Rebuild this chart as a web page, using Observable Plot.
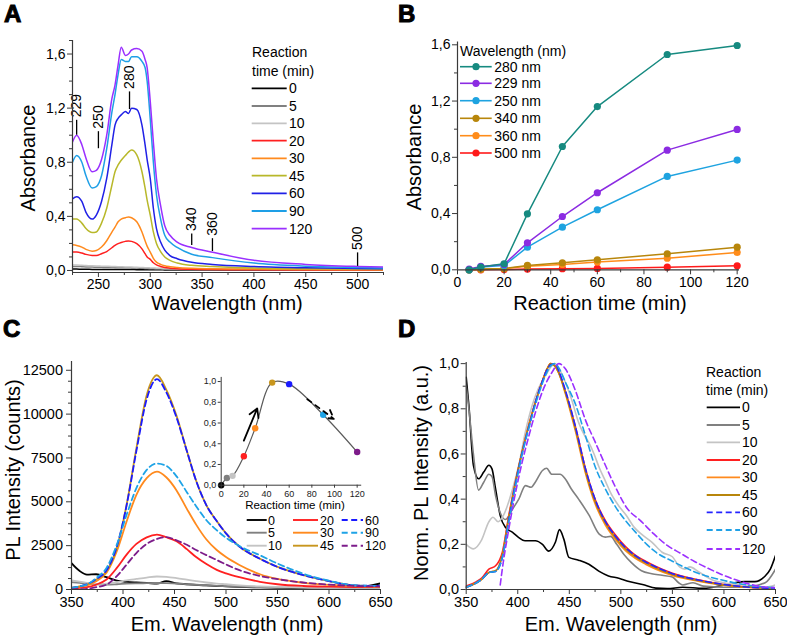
<!DOCTYPE html>
<html><head><meta charset="utf-8">
<script src="https://cdn.jsdelivr.net/npm/d3@7"></script>
<script src="https://cdn.jsdelivr.net/npm/@observablehq/plot@0.6"></script>
<style>
body{margin:0;background:#fff;}
#wrap{position:relative;width:787px;height:635px;overflow:hidden;background:#fff;}
#wrap svg{position:absolute;overflow:visible;}
</style></head><body><div id="wrap"></div>
<script>
// ---------------- DATA ----------------
// Panel A: absorbance spectra
const timesA = [0,5,10,20,30,45,60,90,120];
const nmA = [225,229,234,238,244,248,253,258,263,266,269,272,276,279,282,287,292,295,297,300,303,306,310,314,319,326,340,360,400,450,500,525];
const a0   = [0.010,0.010,0.009,0.009,0.008,0.008,0.008,0.008,0.007,0.007,0.007,0.007,0.007,0.007,0.007,0.006,0.006,0.006,0.006,0.005,0.005,0.005,0.005,0.004,0.004,0.004,0.003,0.003,0.002,0.002,0.002,0.002];
const a5   = [0.030,0.030,0.028,0.026,0.025,0.024,0.023,0.022,0.022,0.021,0.020,0.020,0.020,0.020,0.019,0.018,0.016,0.015,0.014,0.013,0.012,0.011,0.010,0.009,0.008,0.007,0.006,0.005,0.004,0.003,0.003,0.003];
const a10  = [0.040,0.040,0.038,0.036,0.034,0.033,0.032,0.031,0.030,0.029,0.028,0.027,0.026,0.026,0.025,0.024,0.022,0.021,0.020,0.019,0.018,0.017,0.016,0.015,0.014,0.013,0.012,0.011,0.009,0.007,0.006,0.005];
const a20  = [0.136,0.136,0.129,0.119,0.111,0.111,0.124,0.140,0.168,0.185,0.198,0.207,0.215,0.218,0.215,0.198,0.160,0.124,0.100,0.082,0.057,0.042,0.030,0.022,0.017,0.013,0.009,0.007,0.005,0.004,0.003,0.003];
const a30  = [0.190,0.185,0.173,0.156,0.143,0.148,0.173,0.220,0.284,0.320,0.360,0.380,0.390,0.396,0.390,0.360,0.284,0.220,0.180,0.136,0.090,0.062,0.045,0.035,0.028,0.022,0.016,0.013,0.010,0.007,0.005,0.005];
const a45  = [0.380,0.380,0.350,0.310,0.280,0.285,0.350,0.460,0.630,0.730,0.780,0.815,0.850,0.875,0.890,0.855,0.730,0.610,0.520,0.410,0.285,0.200,0.140,0.100,0.075,0.055,0.038,0.030,0.018,0.012,0.010,0.008];
const a60  = [0.530,0.545,0.510,0.430,0.380,0.410,0.510,0.680,0.930,1.075,1.125,1.150,1.175,1.160,1.200,1.190,1.075,0.930,0.820,0.680,0.460,0.310,0.210,0.150,0.110,0.087,0.060,0.045,0.030,0.020,0.015,0.012];
const a90  = [0.800,0.850,0.800,0.700,0.610,0.620,0.700,0.900,1.170,1.300,1.450,1.560,1.545,1.545,1.580,1.580,1.545,1.500,1.400,1.120,0.800,0.560,0.380,0.260,0.210,0.170,0.120,0.095,0.055,0.032,0.022,0.018];
const a120 = [0.950,1.000,0.930,0.830,0.730,0.740,0.820,1.000,1.270,1.370,1.520,1.650,1.590,1.600,1.630,1.640,1.620,1.560,1.500,1.250,0.950,0.680,0.480,0.330,0.260,0.210,0.170,0.135,0.075,0.045,0.030,0.025];
const colorsA = ["#000000","#808080","#c4c4c4","#ff2020","#ff8a1e","#b8b82a","#2020e6","#1e9fe6","#9a30ff"];
const annotNm   = [229,250,280,340,360,500];
const annotLo   = [1.00,0.90,1.19,0.185,0.14,0.03];
const annotHi   = [1.11,1.026,1.32,0.27,0.235,0.13];
const annotText = ["229","250","280","340","360","500"];
const xTicksA = [250,300,350,400,450,500];
const xMinorA = [225,275,325,375,425,475,525];
const yTicksA = [0,0.4,0.8,1.2,1.6];
const yMinorA = [0.1,0.2,0.3,0.5,0.6,0.7,0.9,1.0,1.1,1.3,1.4,1.5,1.7];

// Panel B: absorbance vs reaction time
const timesB = [5,10,20,30,45,60,90,120];
const b280 = [0.000,0.020,0.043,0.398,0.877,1.161,1.531,1.595];
const b229 = [0.005,0.024,0.038,0.192,0.379,0.548,0.851,0.998];
const b250 = [0.000,0.020,0.030,0.161,0.303,0.427,0.664,0.780];
const b340 = [0.000,0.005,0.010,0.031,0.050,0.071,0.114,0.161];
const b360 = [0.000,0.003,0.008,0.025,0.038,0.055,0.083,0.123];
const b500 = [0.000,0.000,0.002,0.005,0.008,0.010,0.019,0.028];
const labelsB = ["280 nm","229 nm","250 nm","340 nm","360 nm","500 nm"];
const colorsB = ["#168a80","#8b2be2","#1ea3e0","#b8860b","#ff8c1a","#ff1a1a"];
const xTicksB = [0,20,40,60,80,100,120];
const xMinorB = [10,30,50,70,90,110];
const yTicksB = [0,0.4,0.8,1.2,1.6];
const yMinorB = [0.2,0.6,1.0,1.4];

// Panel C: PL spectra
const timesC = [0,5,10,20,30,45,60,90,120];
const nmC = [350,358,365,374,384,394,403.5,413,423,433,442,452,462,471,481,491,500,513,533,550,575,600,625,650];
const c0   = [1500,1050,850,870,700,500,430,400,380,330,480,350,300,260,230,200,180,150,120,100,80,80,100,350];
const c5   = [420,380,340,300,280,300,330,350,360,370,360,340,300,270,240,210,190,160,130,110,90,80,80,80];
const c10  = [520,450,380,320,330,420,520,600,680,740,720,650,560,480,400,340,300,240,180,150,120,100,90,90];
const c20  = [57,100,130,280,570,1230,1990,2600,2975,3125,2980,2750,2300,1850,1450,1120,920,700,440,300,200,160,140,130];
const c30  = [95,160,230,470,950,2180,3880,5400,6345,6724,6400,5650,4600,3700,2850,2250,1850,1400,870,600,380,260,190,150];
const c45  = [95,180,280,570,1040,2370,4830,8050,11080,12215,11400,9900,7900,6200,4800,3900,3200,2450,1750,1290,820,480,240,200];
const c60  = [95,180,300,600,1100,2450,4800,7900,10850,11990,11250,9800,7900,6200,4800,3900,3200,2450,1750,1290,820,480,230,200];
const c90  = [95,180,280,660,1230,2560,4260,5780,6820,7180,7050,6450,5550,4750,3950,3380,2950,2480,1950,1480,900,500,240,200];
const c120 = [0,20,40,130,280,760,1420,2080,2600,2880,2990,2800,2550,2250,1960,1680,1430,1100,770,590,400,280,200,170];
const colorsC = ["#000000","#808080","#c4c4c4","#ff2020","#ff8a1e","#c8961e","#1a1aff","#1ea3e6","#7d1c8a"];
const dashedC = [false,false,false,false,false,false,true,true,true];
const xTicksC = [350,400,450,500,550,600,650];
const xMinorC = [375,425,475,525,575,625];
const yTicksC = [0,2500,5000,7500,10000,12500];
const yMinorC = [625,1250,1875,3125,3750,4375,5625,6250,6875,8125,8750,9375,10625,11250,11875];

// Panel C inset: normalised PL maximum vs time
const timesInset = [0,5,10,20,30,45,60,90,120];
const normInset  = [0,0.07,0.09,0.28,0.55,0.99,0.975,0.68,0.32];
const arrowT1 = [20,76];
const arrowV1 = [0.43,0.83];
const arrowT2 = [31.8,99.4];
const arrowV2 = [0.74,0.64];
const arrowDashed = [false,true];
const xTicksIn = [0,20,40,60,80,100,120];
const yTicksIn = [0,0.2,0.4,0.6,0.8,1.0];

// Panel D: normalised PL spectra
const nmD0 = [350,352.6,357,362,367,372,375,378.5,383,388,395,401,407,417,424,430,436.6,440.5,444.7,449.6,459,469,479,488,498,508,521,534,545,560,580,600,610,620,630,640,645,650];
const d0   = [0.94,0.815,0.55,0.49,0.52,0.55,0.534,0.445,0.327,0.275,0.253,0.23,0.216,0.216,0.2,0.17,0.21,0.265,0.223,0.142,0.13,0.112,0.08,0.06,0.05,0.035,0.022,0.006,0.004,0.01,0.005,0.02,0.03,0.035,0.035,0.06,0.09,0.15];
const nmD5 = [350,352.6,357,362,367,372,375,378.5,383,388,395,401,407.5,413,417,424,428,433,441,446,452,459,469,479,485,490,496,503,510,520,530,540,550,556,560,570,580,600,620,640,650];
const d5   = [0.9,0.8,0.6,0.44,0.475,0.51,0.5,0.415,0.34,0.31,0.356,0.4,0.46,0.453,0.475,0.527,0.537,0.51,0.51,0.49,0.445,0.4,0.33,0.245,0.232,0.235,0.2,0.155,0.12,0.083,0.07,0.063,0.055,0.03,0.02,0.03,0.015,0.01,0.01,0.03,0.09];
const nmD10 = [350,357,365,372,376,381,386,395,401,407.5,414,420,427,433,436,440,446,452,459,465,469,474,479,485,491,498,505,513,520,530,540,550,557,562,567,575,590,600,620,640,650];
const d10   = [0.2,0.18,0.22,0.3,0.32,0.3,0.327,0.445,0.55,0.7,0.815,0.89,0.948,0.99,1.0,0.978,0.92,0.845,0.74,0.68,0.65,0.6,0.54,0.48,0.42,0.37,0.33,0.275,0.245,0.21,0.165,0.145,0.1,0.09,0.1,0.08,0.04,0.03,0.02,0.01,0.02];
const nmDM = [350,360,365,372,378.5,385,391.4,397.9,404.3,410.8,417.2,423.7,428.6,432,436,440,446,456,465.7,475.4,485,495,504.5,514,524,534,550,575,600,625,650];
const d20  = [0.015,0.035,0.05,0.09,0.105,0.164,0.33,0.48,0.61,0.73,0.83,0.92,0.978,1.0,0.99,0.96,0.88,0.72,0.535,0.395,0.305,0.24,0.19,0.152,0.125,0.102,0.072,0.043,0.022,0.01,0.005];
const d30  = [0.01,0.03,0.045,0.075,0.083,0.15,0.32,0.475,0.61,0.726,0.83,0.92,0.978,1.0,0.99,0.955,0.87,0.7,0.515,0.375,0.285,0.22,0.172,0.138,0.112,0.09,0.062,0.037,0.019,0.009,0.005];
const d45  = [0.01,0.03,0.045,0.075,0.083,0.15,0.32,0.475,0.61,0.726,0.83,0.92,0.978,1.0,0.99,0.957,0.875,0.71,0.525,0.385,0.295,0.228,0.18,0.145,0.118,0.095,0.066,0.04,0.02,0.01,0.005];
const d60  = [0.01,0.03,0.045,0.075,0.08,0.14,0.31,0.47,0.605,0.72,0.83,0.92,0.975,0.995,1.0,0.965,0.885,0.72,0.535,0.395,0.3,0.235,0.185,0.15,0.122,0.1,0.07,0.042,0.022,0.01,0.005];
const d90  = [0.01,0.03,0.045,0.075,0.08,0.14,0.3,0.46,0.6,0.715,0.82,0.91,0.965,0.99,1.0,0.98,0.92,0.82,0.68,0.54,0.445,0.365,0.305,0.255,0.205,0.165,0.125,0.072,0.04,0.018,0.008];
const nmD120 = [383,385,391.4,397.9,404.3,410.8,417.2,423.7,433.4,439.9,446,456,465.7,475.4,485,493,506,519,532,545,558,571,584,597,610,623,636,650];
const d120   = [0.02,0.09,0.27,0.43,0.564,0.68,0.785,0.874,0.963,1.0,0.978,0.88,0.75,0.65,0.55,0.47,0.36,0.305,0.246,0.195,0.16,0.125,0.095,0.068,0.045,0.026,0.013,0.008];
const timesD = [0,5,10,20,30,45,60,90,120];
const colorsD = ["#000000","#808080","#c4c4c4","#ff2020","#ff8a1e","#b8860b","#2424ff","#1ea0e6","#9b30ff"];
const dashedD = [false,false,false,false,false,false,true,true,true];
const xTicksD = [350,400,450,500,550,600,650];
const xMinorD = [375,425,475,525,575,625];
const yTicksD = [0,0.2,0.4,0.6,0.8,1.0];
const yMinorD = [0.1,0.3,0.5,0.7,0.9];

// ---------------- HELPERS ----------------
const FONT = '"Liberation Sans", Arial, Helvetica, sans-serif';
const comma1 = d => d.toFixed(1).replace(".", ",");
const blank = () => "";
const AX = "#3a3a3a";
const wrap = document.getElementById("wrap");
function place(el, left, top) { el.style.left = left + "px"; el.style.top = top + "px"; wrap.appendChild(el); }

function axes(xd, yd, xt, xm, yt, ym, fx, fy, fs = 14, ypad = 2) {
  return [
    Plot.axisX({ticks: xm, tickSize: 3, tickFormat: blank, stroke: AX, label: null}),
    Plot.axisX({ticks: xt, tickSize: 5, tickFormat: fx, fontSize: fs, fill: "black", stroke: AX, label: null, tickPadding: 2}),
    Plot.axisY({ticks: ym, tickSize: 3, tickFormat: blank, stroke: AX, label: null}),
    Plot.axisY({ticks: yt, tickSize: 5, tickFormat: fy, fontSize: fs, fill: "black", stroke: AX, label: null, tickPadding: ypad}),
    Plot.ruleX([xd[0]], {stroke: AX, strokeWidth: 1.2}),
    Plot.ruleY([yd[0]], {stroke: AX, strokeWidth: 1.2})
  ];
}

// ---------------- PANEL A ----------------
const seriesA = [a0,a5,a10,a20,a30,a45,a60,a90,a120];
const xdA = [225,525], ydA = [-0.015,1.7];
const plotA = Plot.plot({
  width: 393, height: 310, marginLeft: 72, marginRight: 10, marginTop: 40, marginBottom: 38,
  style: {fontFamily: FONT, background: "transparent", overflow: "visible"},
  x: {domain: xdA}, y: {domain: ydA},
  marks: [
    ...seriesA.map((v, i) => Plot.line(v, {x: nmA, y: Plot.identity, stroke: colorsA[i], strokeWidth: 1.5, curve: "monotone-x", clip: true})),
    Plot.ruleX(annotNm, {x: Plot.identity, y1: annotLo, y2: annotHi, stroke: "black", strokeWidth: 1.3}),
    Plot.text(annotText, {x: annotNm, y: annotHi, text: Plot.identity, rotate: -90, textAnchor: "start", dy: -3, fontSize: 14, fill: "black"}),
    ...axes(xdA, ydA, xTicksA, xMinorA, yTicksA, yMinorA, d => String(d), comma1)
  ]
});
place(plotA, 0, 0);

// ---------------- PANEL B ----------------
const seriesB = [b280,b229,b250,b340,b360,b500];
const xdB = [0,121], ydB = [0,1.62];
const plotB = Plot.plot({
  width: 394, height: 310, marginLeft: 64, marginRight: 48, marginTop: 41.5, marginBottom: 40.7,
  style: {fontFamily: FONT, background: "transparent", overflow: "visible"},
  x: {domain: xdB}, y: {domain: ydB},
  marks: [
    ...seriesB.slice().reverse().flatMap((v, j) => {
      const i = seriesB.length - 1 - j;
      return [
        Plot.line(v, {x: timesB, y: Plot.identity, stroke: colorsB[i], strokeWidth: 1.5}),
        Plot.dot(v, {x: timesB, y: Plot.identity, fill: colorsB[i], r: 3.6})
      ];
    }),
    ...axes(xdB, ydB, xTicksB, xMinorB, yTicksB, yMinorB, d => String(d), comma1)
  ]
});
place(plotB, 393, 0);

// ---------------- PANEL C ----------------
const seriesC = [c0,c5,c10,c20,c30,c45,c60,c90,c120];
const xdC = [350,650], ydC = [0,13000];
const plotC = Plot.plot({
  width: 393, height: 325, marginLeft: 71, marginRight: 13, marginTop: 51, marginBottom: 46,
  style: {fontFamily: FONT, background: "transparent", overflow: "visible"},
  x: {domain: xdC}, y: {domain: ydC},
  marks: [
    ...seriesC.map((v, i) => Plot.line(v, {x: nmC, y: Plot.identity, stroke: colorsC[i], strokeWidth: 1.8, curve: "monotone-x", strokeDasharray: dashedC[i] ? "6,3.5" : null, clip: true})),
    ...axes(xdC, ydC, xTicksC, xMinorC, yTicksC, yMinorC, d => String(d), d => String(d), 14.5, 3.5)
  ]
});
place(plotC, 0, 310);

// inset
const xdI = [0,124], ydI = [0,1.04];
const solid = arrowDashed.map(d => !d);
const plotI = Plot.plot({
  width: 185, height: 145, marginLeft: 35.7, marginRight: 8.8, marginTop: 6.9, marginBottom: 30.3,
  style: {fontFamily: FONT, background: "transparent", overflow: "visible"},
  x: {domain: xdI}, y: {domain: ydI},
  marks: [
    Plot.line(normInset, {x: timesInset, y: Plot.identity, stroke: "#5a5a5a", strokeWidth: 1.2, curve: "catmull-rom"}),
    Plot.dot(normInset, {x: timesInset, y: Plot.identity, fill: colorsC, r: 3.2}),
    Plot.arrow(arrowT1.filter((d, i) => solid[i]), {x1: Plot.identity, y1: arrowV1.filter((d, i) => solid[i]), x2: arrowT2.filter((d, i) => solid[i]), y2: arrowV2.filter((d, i) => solid[i]), stroke: "black", strokeWidth: 1.8, headLength: 8}),
    Plot.arrow(arrowT1.filter((d, i) => arrowDashed[i]), {x1: Plot.identity, y1: arrowV1.filter((d, i) => arrowDashed[i]), x2: arrowT2.filter((d, i) => arrowDashed[i]), y2: arrowV2.filter((d, i) => arrowDashed[i]), stroke: "black", strokeWidth: 1.8, headLength: 8, strokeDasharray: "5,5"}),
    Plot.axisX({ticks: xTicksIn, tickSize: 3, fontSize: 9, fill: "#222", stroke: AX, label: null, tickPadding: 2, tickFormat: d => String(d)}),
    Plot.axisY({ticks: yTicksIn, tickSize: 3, fontSize: 9, fill: "#222", stroke: AX, label: null, tickPadding: 2, tickFormat: comma1}),
    Plot.ruleX([0], {stroke: AX}),
    Plot.ruleY([0], {stroke: AX})
  ]
});
place(plotI, 185, 370);

// ---------------- PANEL D ----------------
const seriesD = [[nmD0,d0],[nmD5,d5],[nmD10,d10],[nmDM,d20],[nmDM,d30],[nmDM,d45],[nmDM,d60],[nmDM,d90],[nmD120,d120]];
const xdD = [350,650], ydD = [0,1.005];
const plotD = Plot.plot({
  width: 394, height: 325, marginLeft: 72.7, marginRight: 12, marginTop: 52, marginBottom: 46,
  style: {fontFamily: FONT, background: "transparent", overflow: "visible"},
  x: {domain: xdD}, y: {domain: ydD},
  marks: [
    ...seriesD.map(([xs, v], i) => Plot.line(v, {x: xs, y: Plot.identity, stroke: colorsD[i], strokeWidth: 1.6, curve: "monotone-x", strokeDasharray: dashedD[i] ? "6,3.5" : null, clip: true})),
    ...axes(xdD, ydD, xTicksD, xMinorD, yTicksD, yMinorD, d => String(d), comma1, 14.5)
  ]
});
place(plotD, 393, 310);

// ---------------- OVERLAY: titles, legends, panel letters ----------------
const ov = d3.create("svg").attr("width", 787).attr("height", 635)
  .style("left", "0px").style("top", "0px").style("pointer-events", "none")
  .style("font-family", FONT);
function txt(x, y, s, size, opts = {}) {
  const t = ov.append("text").attr("x", x).attr("y", y).text(s).attr("font-size", size).attr("fill", "black");
  if (opts.anchor) t.attr("text-anchor", opts.anchor);
  if (opts.rotate) t.attr("transform", `rotate(${opts.rotate},${x},${y})`);
  if (opts.bold) t.attr("font-weight", "bold").attr("stroke", "black").attr("stroke-width", 1);
  return t;
}
// panel letters
txt(4, 22, "A", 24, {bold: true});
txt(398, 22, "B", 24, {bold: true});
txt(3, 337, "C", 24, {bold: true});
txt(398, 337, "D", 24, {bold: true});
// axis titles
txt(227, 310, "Wavelength (nm)", 20, {anchor: "middle"});
txt(35, 158, "Absorbance", 20, {anchor: "middle", rotate: -90});
txt(600, 310, "Reaction time (min)", 20, {anchor: "middle"});
txt(421, 157, "Absorbance", 20, {anchor: "middle", rotate: -90});
txt(227, 631, "Em. Wavelength (nm)", 20, {anchor: "middle"});
txt(19.5, 470, "PL Intensity (counts)", 20, {anchor: "middle", rotate: -90});
txt(621, 631, "Em. Wavelength (nm)", 20, {anchor: "middle"});
txt(428, 473, "Norm. PL Intensity (a.u.)", 20, {anchor: "middle", rotate: -90});
txt(295, 509, "Reaction time (min)", 11.5, {anchor: "middle"});

function legendLine(x1, x2, y, color, dashed, w) {
  ov.append("line").attr("x1", x1).attr("x2", x2).attr("y1", y).attr("y2", y)
    .attr("stroke", color).attr("stroke-width", w).attr("stroke-dasharray", dashed ? "6,3.5" : null);
}
// legend A
txt(252, 56.5, "Reaction", 14);
txt(252, 75.5, "time (min)", 14);
const rowsA = [88.3,106,123.3,140.7,158.3,175.7,193.3,211,228.7];
timesA.forEach((t, i) => {
  legendLine(251.7, 286.7, rowsA[i], colorsA[i], false, 1.8);
  txt(289, rowsA[i] + 5, String(t), 14);
});
// legend B
txt(460, 55.5, "Wavelength (nm)", 14);
const rowsB = [66.7,83.3,100.7,118.3,135.7,153];
labelsB.forEach((s, i) => {
  legendLine(460, 491.7, rowsB[i], colorsB[i], false, 1.6);
  ov.append("circle").attr("cx", 476).attr("cy", rowsB[i]).attr("r", 3.6).attr("fill", colorsB[i]);
  txt(494.3, rowsB[i] + 5, s, 14);
});
// legend C (3 columns)
const colC = [[246.7,266.7,268],[293,318,320],[341.7,363,365]];
const rowsC = [520,532.7,545.7];
timesC.forEach((t, i) => {
  const c = colC[Math.floor(i / 3)], y = rowsC[i % 3];
  legendLine(c[0], c[1], y, colorsC[i], dashedC[i], 1.9);
  txt(c[2], y + 4.5, String(t), 12.5);
});
// legend D
txt(706, 376.7, "Reaction", 14);
txt(706, 395, "time (min)", 14);
const rowsD = [407.3,425,442.3,460,477.3,495,512.3,530,549];
timesD.forEach((t, i) => {
  legendLine(706.7, 740, rowsD[i], colorsD[i], dashedD[i], 1.8);
  txt(742, rowsD[i] + 5, String(t), 14);
});
place(ov.node(), 0, 0);
</script></body></html>
